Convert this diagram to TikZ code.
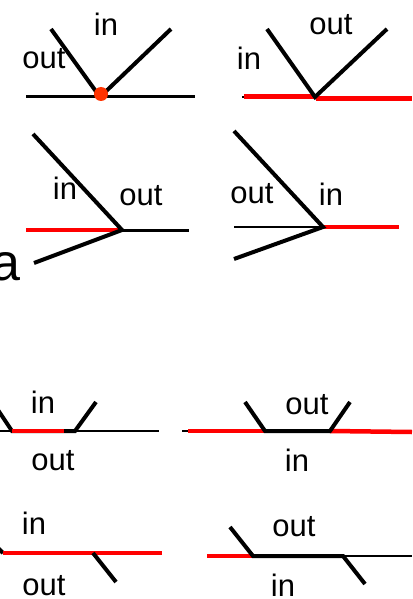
\documentclass[tikz,border=0pt]{standalone}
\usepackage{fontspec}
\setmainfont{Liberation Sans}
\definecolor{dotred}{HTML}{FF3300}
\tikzset{
  lbl/.style={inner sep=0pt, font=\fontsize{31}{37}\selectfont},
  big/.style={inner sep=0pt, font=\fontsize{52}{60}\selectfont},
  thick4/.style={line width=4pt, black},
  base3/.style={line width=3pt, black},
  thin2/.style={line width=2pt, black},
  redline/.style={line width=4.5pt, red}
}
\begin{document}
\begin{tikzpicture}[x=1pt,y=-1pt]
\useasboundingbox (0,0) rectangle (412,599);
\clip (0,0) rectangle (412,599);
% Panel 1
\coordinate (p1l) at (26,97); \coordinate (p1r) at (195,97);
\coordinate (p1v) at (100,97); \coordinate (p1a) at (51,29); \coordinate (p1b) at (171,29);
\draw[base3] (p1l) -- (p1r);
\draw[thick4] (p1a) -- (p1v) -- (p1b);
\fill[dotred] (101,94) circle (7);
\node[lbl] (t1in) at (106,24) {in};
\node[lbl] (t1out) at (44,59) {out};
% Panel 2
\coordinate (p2l) at (242,97); \coordinate (p2r) at (412,97);
\coordinate (p2v) at (315,97); \coordinate (p2a) at (267,29); \coordinate (p2b) at (387,29);
\draw[thin2] (p2l) -- (p2r);
\draw[redline] (244,96.5) -- (316,96.5);
\draw[redline] (316,98.5) -- (412,98.5);
\draw[thick4] (p2a) -- (p2v) -- (p2b);
\node[lbl] (t2out) at (331,25) {out};
\node[lbl] (t2in) at (249,58) {in};
% Panel 3
\coordinate (p3v) at (122,230); \coordinate (p3a) at (33,134); \coordinate (p3b) at (34,263);
\coordinate (p3l) at (26,230); \coordinate (p3r) at (189,230);
\draw[redline] (p3l) -- (p3v);
\draw[base3] (p3v) -- (p3r);
\draw[thick4] (p3a) -- (p3v) -- (p3b);
\node[lbl] (t3in) at (65,188) {in};
\node[lbl] (t3out) at (141,196) {out};
\node[big] (ta) at (6,267) {a};
% Panel 4
\coordinate (p4v) at (323,227); \coordinate (p4a) at (234,131); \coordinate (p4b) at (234,259);
\coordinate (p4l) at (234,227); \coordinate (p4r) at (399,227);
\draw[thin2] (p4l) -- (p4v);
\draw[redline] (p4v) -- (p4r);
\draw[thick4] (p4a) -- (p4v) -- (p4b);
\node[lbl] (t4out) at (252,194) {out};
\node[lbl] (t4in) at (331,194) {in};
% Panel 5
\coordinate (p5l) at (0,431); \coordinate (p5r) at (159,431);
\coordinate (p5v1) at (12,431); \coordinate (p5v2) at (75,431);
\coordinate (p5a) at (-2,410); \coordinate (p5b) at (96,402);
\draw[thin2] (p5l) -- (p5r);
\draw[thick4] (p5a) -- (p5v1) -- (p5v2) -- (p5b);
\draw[redline] (p5v1) -- (64,431);
\node[lbl] (t5in) at (43,402) {in};
\node[lbl] (t5out) at (53,461) {out};
% Panel 6
\coordinate (p6l) at (182,431); \coordinate (p6v1) at (265,431); \coordinate (p6v2) at (330,431);
\coordinate (p6a) at (245,402); \coordinate (p6b) at (350,402);
\draw[thin2] (p6l) -- (412,431);
\draw[redline] (188,431) -- (p6v1);
\draw[redline] (p6v2) -- (412,432);
\draw[thick4] (p6a) -- (p6v1) -- (p6v2) -- (p6b);
\node[lbl] (t6out) at (307,405) {out};
\node[lbl] (t6in) at (297,460) {in};
% Panel 7
\coordinate (p7l) at (3,553); \coordinate (p7r) at (162,553);
\coordinate (p7v) at (93,553); \coordinate (p7b) at (116,582);
\draw[thick4] (-3,547) -- (p7l);
\draw[redline] (p7l) -- (p7r);
\draw[thick4] (p7v) -- (p7b);
\node[lbl] (t7in) at (34,523) {in};
\node[lbl] (t7out) at (44,586) {out};
% Panel 8
\coordinate (p8l) at (207,556); \coordinate (p8v1) at (253,556); \coordinate (p8v2) at (343,556);
\coordinate (p8a) at (230,527); \coordinate (p8b) at (365,584); \coordinate (p8r) at (412,556);
\draw[redline] (p8l) -- (p8v1);
\draw[thin2] (p8v2) -- (p8r);
\draw[thick4] (p8a) -- (p8v1) -- (p8v2) -- (p8b);
\node[lbl] (t8out) at (294,527) {out};
\node[lbl] (t8in) at (283,585) {in};
\end{tikzpicture}
\end{document}
